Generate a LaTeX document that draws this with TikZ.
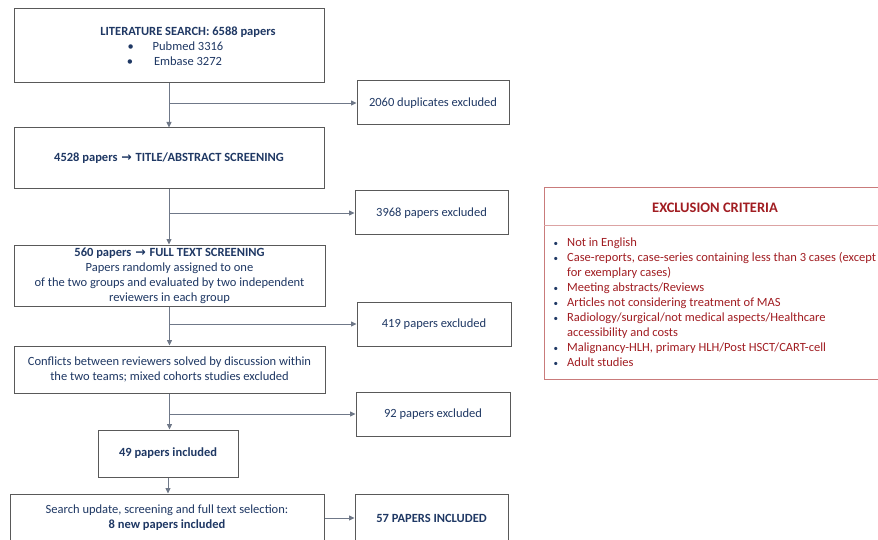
\documentclass[tikz,border=0pt]{standalone}
\usepackage{fontspec}
\setmainfont{Carlito}
\newfontfamily\arrowfont{DejaVu Sans}
\usetikzlibrary{arrows.meta}
\definecolor{navy}{HTML}{1F3864}
\definecolor{exred}{HTML}{A11D22}
\definecolor{exborder}{HTML}{C97B7B}
\definecolor{exdiv}{HTML}{DCA3A3}
\definecolor{boxline}{HTML}{595959}
\definecolor{conn}{HTML}{6F7888}
\newcommand{\rarr}{{\arrowfont\bfseries\kern1pt→\kern1pt}}
\tikzset{
  flowbox/.style={draw=boxline, line width=1pt, rectangle, align=center, text=navy,
    font=\fontsize{12.5}{15}\selectfont, inner sep=0pt},
  flowtext/.style={align=center, text=navy, font=\fontsize{12.5}{15}\selectfont, inner sep=0pt},
  arr/.style={draw=conn, line width=0.8pt, -{Triangle[length=5.5pt,width=5pt]}},
}
\begin{document}
\begin{tikzpicture}[x=1pt,y=-1pt]
\useasboundingbox (0,0) rectangle (878,540);
\clip (0,0) rectangle (878,540);
\fill[white] (0,0) rectangle (878,540);

% main column
\node[flowbox, minimum width=310, minimum height=74] (b1) at (169,46) {};
\node[flowtext] (b1text) at (188,46.5)
  {\textbf{LITERATURE SEARCH: 6588 papers}\\
   \llap{•\hspace{19pt}}Pubmed 3316\\
   \llap{•\hspace{21pt}}Embase 3272};
\node[flowbox, minimum width=310, minimum height=61] (b2) at (169,158.5)
  {\textbf{4528 papers \rarr{} TITLE/ABSTRACT SCREENING}};
\node[flowbox, minimum width=311, minimum height=61] (b3) at (169.5,275.5)
  {\textbf{560 papers \rarr{} FULL TEXT SCREENING}\\
   Papers randomly assigned to one\\
   of the two groups and evaluated by two independent\\
   reviewers in each group};
\node[flowbox, minimum width=311, minimum height=47] (b4) at (169.5,369.5)
  {Conflicts between reviewers solved by discussion within\\
   the two teams; mixed cohorts studies excluded};
\node[flowbox, minimum width=140, minimum height=47] (b5) at (168,453.5)
  {\textbf{49 papers included}};
\node[flowbox, minimum width=314, minimum height=48] (b6) at (167,518)
  {Search update, screening and full text selection:\\
   \textbf{8 new papers included}};

% side boxes
\node[flowbox, minimum width=152, minimum height=44] (e1) at (433,103)
  {2060 duplicates excluded};
\node[flowbox, minimum width=153, minimum height=44] (e2) at (431.5,213)
  {3968 papers excluded};
\node[flowbox, minimum width=154, minimum height=44] (e3) at (434,324)
  {419 papers excluded};
\node[flowbox, minimum width=154, minimum height=44] (e4) at (433,414)
  {92 papers excluded};
\node[flowbox, minimum width=153, minimum height=48] (e5) at (431.5,518)
  {\textbf{57 PAPERS INCLUDED}};

% connectors
\draw[arr] (b1.south) -- (b1.south |- b2.north);
\draw[arr] (b1.south |- e1.west) -- (e1.west);
\draw[arr] (b2.south) -- (b2.south |- b3.north);
\draw[arr] (b2.south |- e2.west) -- (e2.west);
\draw[arr] (b3.south) -- (b3.south |- b4.north);
\draw[arr] (b3.south |- e3.west) -- (e3.west);
\draw[arr] (b4.south) -- (b4.south |- b5.north);
\draw[arr] (b4.south |- e4.west) -- (e4.west);
\draw[arr] (b5.south) -- (b5.south |- b6.north);
\draw[arr] (b6.east |- e5.west) -- (e5.west);

% exclusion criteria
\node[draw=exborder, line width=1pt, rectangle, minimum width=360, minimum height=192,
  anchor=north west, inner sep=0pt] (ex) at (544,187) {};
\coordinate (dl) at (544,225);
\draw[exdiv, line width=0.8pt] (dl) -- ++(360,0);
\node[text=exred, font=\fontsize{14.5}{15}\selectfont\bfseries] (extitle) at (715,207.5)
  {EXCLUSION CRITERIA};
\node[anchor=north west, align=left, text=exred, inner sep=0pt,
  font=\fontsize{12.5}{15}\selectfont] (exlist) at (567,238)
  {\llap{\textcolor{navy}{\small•}\hspace{9pt}}Not in English\\
   \llap{\textcolor{navy}{\small•}\hspace{9pt}}Case-reports, case-series containing less than 3 cases (except\\
   for exemplary cases)\\
   \llap{\textcolor{navy}{\small•}\hspace{9pt}}Meeting abstracts/Reviews\\
   \llap{\textcolor{navy}{\small•}\hspace{9pt}}Articles not considering treatment of MAS\\
   \llap{\textcolor{navy}{\small•}\hspace{9pt}}Radiology/surgical/not medical aspects/Healthcare\\
   accessibility and costs\\
   \llap{\textcolor{navy}{\small•}\hspace{9pt}}Malignancy-HLH, primary HLH/Post HSCT/CART-cell\\
   \llap{\textcolor{navy}{\small•}\hspace{9pt}}Adult studies};
\end{tikzpicture}
\end{document}
